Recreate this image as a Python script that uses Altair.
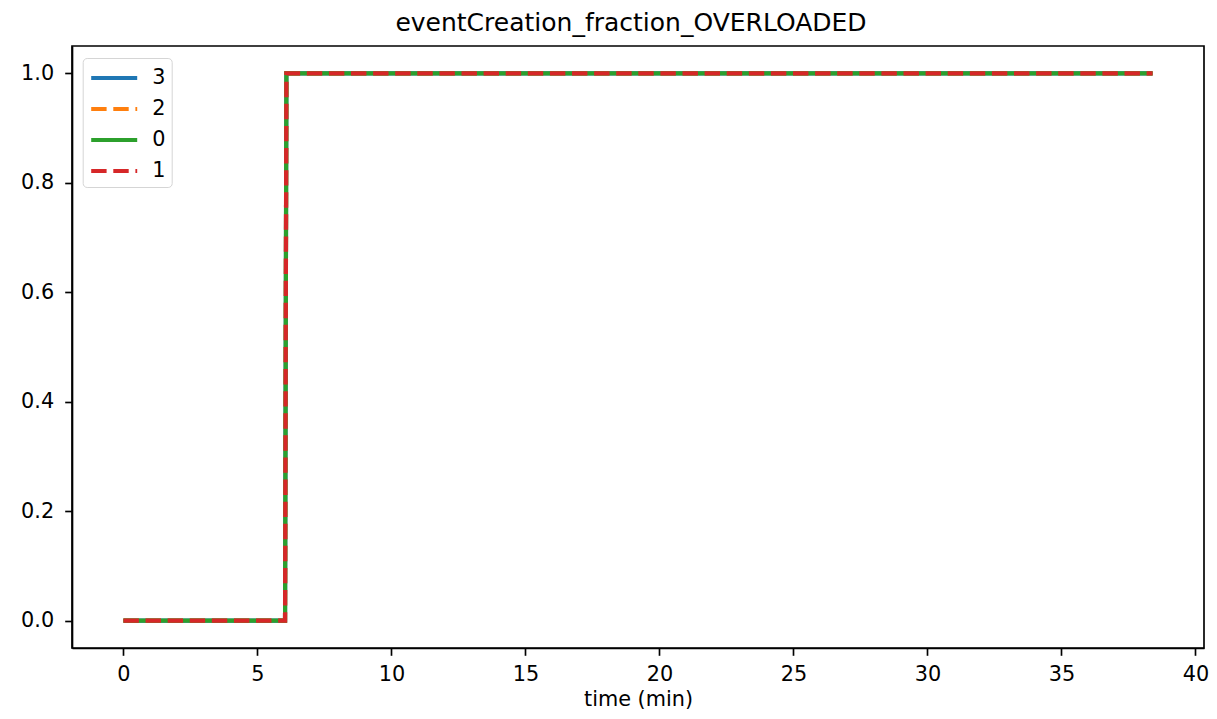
import altair as alt
import pandas as pd

# data
series = ["3", "2", "0", "1"]
time_min = [0.0, 6.03, 6.08, 38.4]
fraction = [0.0, 0.0, 1.0, 1.0]
colors = ["#1f77b4", "#ff7f0e", "#2ca02c", "#d62728"]
dashes = [[1, 0], [15.4, 6.7], [1, 0], [15.4, 6.7]]
x_ticks = [0, 5, 10, 15, 20, 25, 30, 35, 40]
y_ticks = [0.0, 0.2, 0.4, 0.6, 0.8, 1.0]

rows = []
for s in series:
    for t, f in zip(time_min, fraction):
        rows.append({"series": s, "time": t, "value": f})
df = pd.DataFrame(rows)

FONT = "DejaVu Sans"
FS = 20.8

xenc = alt.X("time:Q", title="time (min)",
             scale=alt.Scale(domain=[-1.92, 40.32], nice=False, zero=False),
             axis=alt.Axis(values=x_ticks, format="d", grid=False,
                           labelPadding=9, titlePadding=5))
yenc = alt.Y("value:Q", title=None,
             scale=alt.Scale(domain=[-0.05, 1.05], nice=False, zero=False),
             axis=alt.Axis(values=y_ticks, format=".1f", grid=False,
                           labelPadding=11))
cenc = alt.Color("series:N", title=None,
                 scale=alt.Scale(domain=series, range=colors))
denc = alt.StrokeDash("series:N", title=None,
                      scale=alt.Scale(domain=series, range=dashes))

layers = []
for s in series:
    layers.append(
        alt.Chart(df).transform_filter(alt.datum.series == s)
        .mark_line(strokeWidth=4.2, strokeCap="butt")
        .encode(x=xenc, y=yenc, color=cenc, strokeDash=denc)
    )

chart = alt.layer(*layers).properties(
    width=1132, height=602,
    title=alt.Title("eventCreation_fraction_OVERLOADED", fontSize=25,
                    font=FONT, fontWeight="normal", color="black",
                    offset=10, dx=-7),
    autosize=alt.AutoSizeParams(type="none"),
    padding={"left": 64, "top": 38, "right": 5, "bottom": 63},
).configure_view(stroke="black", strokeWidth=1.67).configure_axis(
    labelFont=FONT, labelFontSize=FS, labelColor="black",
    titleFont=FONT, titleFontSize=FS, titleColor="black", titleFontWeight="normal",
    tickColor="black", tickWidth=1.67, tickSize=7.3,
    domainColor="black", domainWidth=1.67,
).configure_legend(
    orient="none", legendX=10.7, legendY=12,
    symbolType="M-2,0H2", symbolSize=529, symbolOffset=11.5,
    symbolStrokeWidth=4.2, labelFontSize=FS, labelFont=FONT,
    labelColor="black", labelOffset=24, strokeColor="#d5d5d5",
    fillColor="white", cornerRadius=4, padding=6, rowPadding=7,
)

chart.save("out.html", embed_options={"renderer": "svg", "actions": False})
